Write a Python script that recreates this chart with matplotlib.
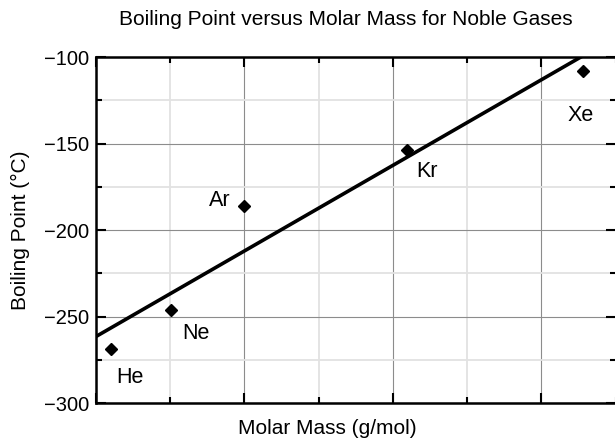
import numpy as np
import matplotlib
matplotlib.use('Agg')
import matplotlib.pyplot as plt
from matplotlib.ticker import MultipleLocator, NullFormatter

plt.rcParams['font.family'] = ['Liberation Sans', 'DejaVu Sans']

# dados
gases = ['He', 'Ne', 'Ar', 'Kr', 'Xe']
massa = [4.003, 20.18, 39.95, 83.80, 131.29]       # g/mol
ebulicao = [-268.9, -246.0, -185.8, -153.4, -108.1]  # C

# deslocamento dos rotulos (pontos) e alinhamento
desloc = {'He': (4, -20, 'left'), 'Ne': (8, -17, 'left'),
          'Ar': (-10, 4, 'right'), 'Kr': (7, -16, 'left'),
          'Xe': (-2, -32, 'center')}

a, b = np.polyfit(massa, ebulicao, 1)
xs = np.array([0, 140])

fig = plt.figure(figsize=(6.15, 4.4), dpi=100)
ax = fig.add_axes([0.156, 0.084, 0.845, 0.786])

ax.plot(xs, a * xs + b, 'k', lw=2.6, zorder=3)
ax.plot(massa, ebulicao, 'D', color='k', ms=6.5, zorder=4)

for g, x, y in zip(gases, massa, ebulicao):
    dx, dy, ha = desloc[g]
    ax.annotate(g, (x, y), xytext=(dx, dy), textcoords='offset points',
                ha=ha, va='center', fontsize=15.5)

ax.set_xlim(0, 140)
ax.set_ylim(-300, -100)
ax.xaxis.set_major_locator(MultipleLocator(40))
ax.xaxis.set_minor_locator(MultipleLocator(20))
ax.xaxis.set_major_formatter(NullFormatter())
ax.yaxis.set_major_locator(MultipleLocator(50))
ax.yaxis.set_minor_locator(MultipleLocator(25))

ax.grid(True, which='major', color='#8c8c8c', lw=0.8)
ax.grid(True, which='minor', color='#e2e2e2', lw=1.3)
ax.set_axisbelow(True)

ax.tick_params(which='both', direction='in', top=True, right=True,
               labelsize=14.5, pad=5, width=1.5)
ax.tick_params(which='major', length=7)
ax.tick_params(which='minor', length=4)
for s in ax.spines.values():
    s.set_linewidth(1.8)

ax.yaxis.set_major_formatter(plt.FuncFormatter(lambda v, p: '\u2212%d' % abs(v)))

fig.text(0.563, 0.955, 'Boiling Point versus Molar Mass for Noble Gases',
         ha='center', va='center', fontsize=15)
fig.text(0.532, 0.027, 'Molar Mass (g/mol)', ha='center', va='center', fontsize=15)
fig.text(0.033, 0.477, 'Boiling Point (\u00b0C)', ha='center', va='center',
         rotation=90, fontsize=15)

plt.savefig('out.png', dpi=100)
plt.close()
